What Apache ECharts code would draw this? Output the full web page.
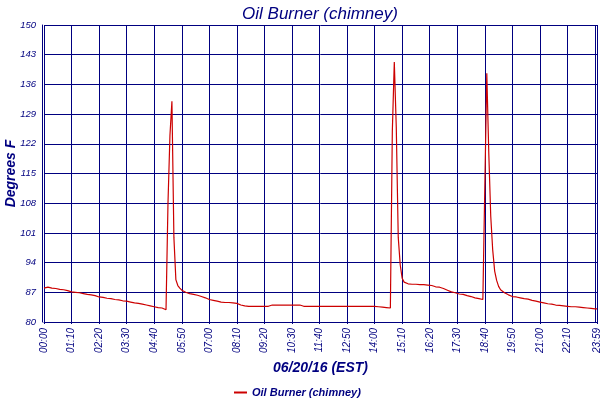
<!DOCTYPE html>
<html>
<head>
<meta charset="utf-8">
<script src="https://cdn.jsdelivr.net/npm/echarts@6/dist/echarts.min.js"></script>
<style>
  html, body { margin: 0; background: #fff; }
  #chart { width: 600px; height: 400px; }
</style>
</head>
<body>
<div id="chart"></div>
<script>
// Oil burner chimney temperature, one reading every 5 minutes on 06/20/16,
// with the last two log entries at 23:58 / 23:59 (logger gap before them).
const NAVY = "#000080"
const LINE_RED = "#cc0000"
const FONT = "Liberation Sans"

const SERIES_NAME = "Oil Burner (chimney)"
const X_NAME = "06/20/16 (EST)"
const Y_NAME = "Degrees F"

// y ticks as printed on the chart
const Y_TICKS = [80, 87, 94, 101, 108, 115, 122, 129, 136, 143, 150]

// category labels: 00:00 .. 23:15 every 5 min, then the two late entries
const STEP_MIN = 5
const REGULAR_COUNT = 280
const LATE_TIMES = ["23:58", "23:59"]
const LABEL_EVERY = 14 // one label every 70 minutes

const pad = (n) => n.toString().padStart(2, "0")
const times = []
for (let i = 0; i < REGULAR_COUNT; i++) {
  const m = i * STEP_MIN
  times.push(`${pad(Math.floor(m / 60))}:${pad(m % 60)}`)
}
times.push(...LATE_TIMES)

// readings (degrees F)
const tempsNight = [
  88.0, 88.0, 88.2, 88.1, 88.0, 87.9, 87.9, 87.8, 87.7, 87.7,
  87.6, 87.5, 87.4, 87.3, 87.1, 87.1, 87.0, 86.9, 86.9, 86.8,
  86.7, 86.6, 86.5, 86.5, 86.4, 86.3, 86.2, 86.1, 85.9, 85.9,
  85.8, 85.7, 85.6, 85.5, 85.5, 85.4, 85.3, 85.2, 85.2, 85.1,
  85.0, 85.0, 84.9, 84.8, 84.7, 84.6, 84.5, 84.5, 84.4, 84.3,
  84.2, 84.1, 84.0, 83.9, 83.8, 83.7, 83.6, 83.5, 83.4, 83.4,
  83.3, 83.1, 82.9,
]
const tempsBurn1 = [
  108, 124, 132, 100, 90, 88.6, 88.0, 87.5, 87.2, 87.0,
]
const tempsMidday = [
  86.8, 86.7, 86.6, 86.5, 86.4, 86.3, 86.2, 86.0, 85.9, 85.7,
  85.5, 85.3, 85.2, 85.1, 85.0, 84.9, 84.8, 84.7, 84.7, 84.6,
  84.6, 84.6, 84.5, 84.5, 84.4, 84.4, 84.2, 84.0, 84.0, 83.8,
  83.7, 83.7, 83.7, 83.7, 83.7, 83.7, 83.7, 83.7, 83.7, 83.7,
  83.7, 83.7, 83.7, 84.0, 84.0, 84.0, 84.0, 84.0, 84.0, 84.0,
  84.0, 84.0, 84.0, 84.0, 84.0, 84.0, 84.0, 84.0, 84.0, 83.7,
  83.7, 83.7, 83.7, 83.7, 83.7, 83.7, 83.7, 83.7, 83.7, 83.7,
  83.7, 83.7, 83.7, 83.7, 83.7, 83.7, 83.7, 83.7, 83.7, 83.7,
  83.7, 83.7, 83.7, 83.7, 83.7, 83.7, 83.7, 83.7, 83.7, 83.7,
  83.7, 83.7, 83.7, 83.7, 83.7, 83.7, 84.0, 83.6, 83.5, 83.5,
  83.4, 83.4, 83.4, 83.3,
]
const tempsBurn2 = [
  125, 141.3, 126, 100, 93.5, 90.3, 89.4, 89.1, 89.0,
]
const tempsAfternoon = [
  89.0, 88.9, 88.9, 88.9, 88.8, 88.8, 88.8, 88.8, 88.7, 88.7,
  88.7, 88.6, 88.4, 88.3, 88.3, 88.2, 88.0, 87.9, 87.8, 87.5,
  87.2, 87.1, 87.0, 86.9, 86.7, 86.6, 86.6, 86.5, 86.4, 86.2,
  86.0, 86.0, 85.9, 85.7, 85.6, 85.5, 85.4, 85.3, 85.2,
]
const tempsBurn3 = [
  138.6, 120, 105, 97, 92, 89.8, 88.4, 87.6, 87.2, 86.9, 86.6,
]
const tempsEvening = [
  86.4, 86.2, 86.0, 86.0, 85.9, 85.8, 85.7, 85.6, 85.5, 85.4,
  85.4, 85.2, 85.1, 85.0, 84.9, 84.8, 84.7, 84.6, 84.5, 84.4,
  84.3, 84.2, 84.2, 84.1, 84.0, 84.0, 83.9, 83.9, 83.8, 83.8,
  83.7, 83.7, 83.6, 83.6, 83.6, 83.5, 83.5, 83.4, 83.4, 83.3,
  83.3, 83.2, 83.2, 83.2, 83.1, 83.1,
]

const temps = [
  ...tempsNight, ...tempsBurn1, ...tempsMidday, ...tempsBurn2,
  ...tempsAfternoon, ...tempsBurn3, ...tempsEvening,
]

const showTick = (idx) => idx % LABEL_EVERY === 0 || idx >= REGULAR_COUNT

const chart = echarts.init(document.getElementById("chart"))
chart.setOption({
  animation: false,
  backgroundColor: "#fff",
  title: {
    text: SERIES_NAME,
    left: 315,
    textAlign: "center",
    top: 1,
    textStyle: {color: NAVY, fontFamily: FONT, fontStyle: "italic", fontWeight: "normal", fontSize: 17},
  },
  legend: {
    left: 229,
    top: 382,
    icon: "rect",
    itemWidth: 13,
    itemHeight: 2,
    itemGap: 4,
    textStyle: {color: NAVY, fontFamily: FONT, fontStyle: "italic", fontWeight: "bold", fontSize: 11},
    data: [SERIES_NAME],
  },
  grid: {left: 44, right: 3, top: 25, bottom: 78, containLabel: false, outerBoundsMode: "none"},
  xAxis: {
    type: "category",
    data: times,
    boundaryGap: false,
    name: X_NAME,
    nameLocation: "middle",
    nameGap: 37,
    nameTextStyle: {color: NAVY, fontFamily: FONT, fontStyle: "italic", fontWeight: "bold", fontSize: 14},
    axisLine: {show: true, lineStyle: {color: NAVY, width: 1}},
    axisTick: {show: true, interval: showTick, length: 2, lineStyle: {color: NAVY}},
    axisLabel: {
      interval: showTick,
      hideOverlap: false,
      showMaxLabel: true,
      rotate: 90,
      margin: 6,
      color: NAVY,
      fontFamily: FONT,
      fontStyle: "italic",
      fontSize: 10,
    },
    splitLine: {show: true, interval: showTick, lineStyle: {color: NAVY, width: 1}},
  },
  yAxis: {
    type: "value",
    min: Y_TICKS[0],
    max: Y_TICKS[Y_TICKS.length - 1],
    name: Y_NAME,
    nameLocation: "middle",
    nameGap: 24,
    nameMoveOverlap: false,
    nameTextStyle: {color: NAVY, fontFamily: FONT, fontStyle: "italic", fontWeight: "bold", fontSize: 14},
    offset: 2,
    axisLine: {show: true, lineStyle: {color: NAVY, width: 1}},
    axisTick: {show: false, customValues: Y_TICKS},
    axisLabel: {
      customValues: Y_TICKS,
      margin: 6,
      color: NAVY,
      fontFamily: FONT,
      fontStyle: "italic",
      fontSize: 9.5,
    },
    splitLine: {show: true, lineStyle: {color: NAVY, width: 1}},
  },
  series: [
    {
      name: SERIES_NAME,
      type: "line",
      data: temps,
      showSymbol: false,
      lineStyle: {color: LINE_RED, width: 1.2},
      itemStyle: {color: LINE_RED},
    },
  ],
})
</script>
</body>
</html>
